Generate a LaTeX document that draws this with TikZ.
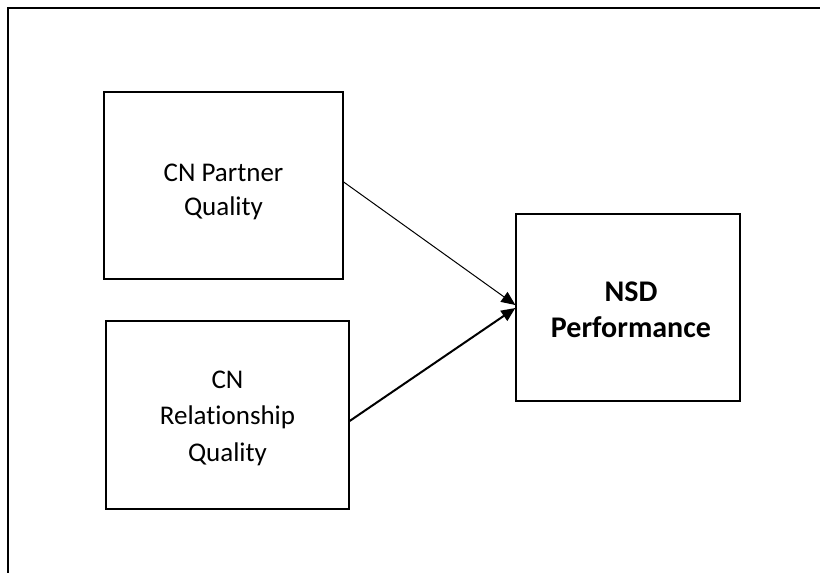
\documentclass[tikz,border=0pt]{standalone}
\usepackage{fontspec}
\setmainfont[Ligatures=NoCommon]{Carlito}
\usetikzlibrary{arrows.meta}
\begin{document}
\begin{tikzpicture}[x=1pt,y=-1pt,
  construct/.style={draw=black,line width=1.3pt,align=center,
    font=\fontsize{27}{35}\selectfont,inner sep=0pt},
  label text/.style={align=center,inner sep=0pt},
  link/.style={draw=black,-{Triangle[length=14pt,width=12pt]}},
]
\useasboundingbox (0,0) rectangle (820,573);
% outer frame (runs past the right and lower page edges)
\draw[line width=1.5pt] (8,600) -- (8,8) -- (840,8);

\node[construct,minimum width=239pt,minimum height=187pt] (partner) at (223.5,185.5) {};
\node[label text,font=\fontsize{27}{34}\selectfont] (partnertext) at (223.5,192)
  {CN Partner\\Quality};
\node[construct,minimum width=243pt,minimum height=188pt] (relation) at (227.5,415) {};
\node[label text,font=\fontsize{27}{36.5}\selectfont] (relationtext) at (227.5,418)
  {CN\\Relationship\\Quality};
\node[construct,minimum width=224pt,minimum height=187pt] (nsd) at (628,307.5) {};
\node[label text,font=\fontsize{30}{36}\selectfont\bfseries] (nsdtext) at (631,310)
  {NSD\\Performance};

\path[link,line width=1pt] ([yshift=3.5pt]partner.east) -- ([yshift=2.5pt]nsd.west);
\path[link,line width=2pt] ([yshift=-6pt]relation.east) -- ([yshift=-0.5pt]nsd.west);
\end{tikzpicture}
\end{document}
